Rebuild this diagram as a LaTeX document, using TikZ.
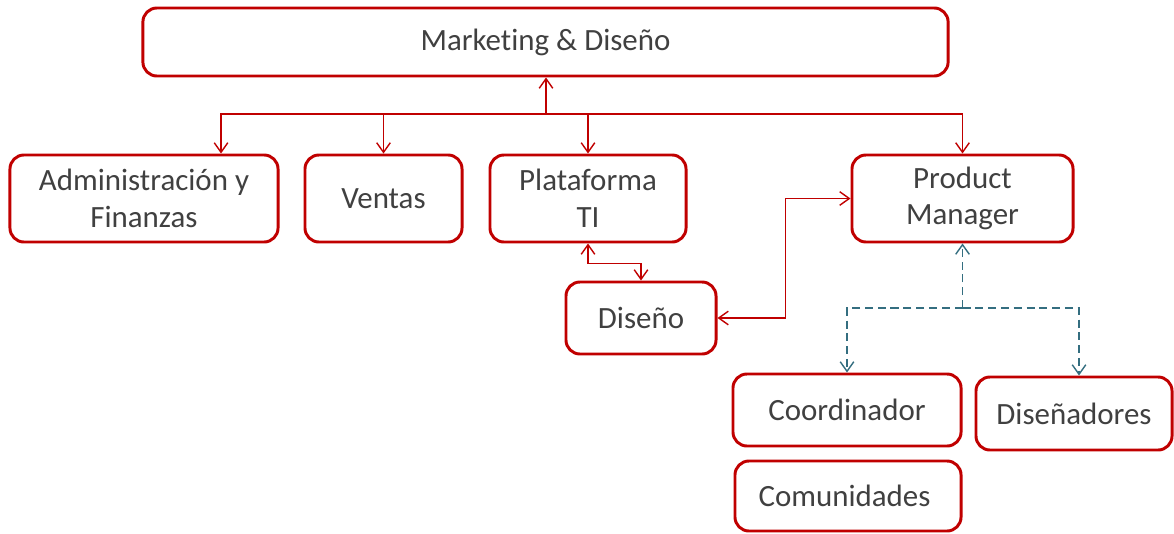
\documentclass[tikz,border=0pt]{standalone}
\usepackage{fontspec}
\setmainfont{Carlito}[Ligatures=NoCommon]
\usetikzlibrary{arrows.meta}
\definecolor{rojo}{RGB}{192,0,0}
\definecolor{azul}{RGB}{52,110,128}
\definecolor{texto}{RGB}{64,64,64}
\begin{document}
\begin{tikzpicture}[x=0.025cm,y=-0.025cm,
caja/.style={draw=rojo,line width=2.1pt,rounded corners=0.35cm,align=center,text=texto,inner sep=0pt,font=\fontsize{22}{26}\selectfont},
flecha/.style={draw=rojo,line width=1pt,-{Straight Barb[length=2.4mm,width=3.4mm]}},
doble/.style={flecha,{Straight Barb[length=2.4mm,width=3.4mm]}-{Straight Barb[length=2.4mm,width=3.4mm]}},
punteada/.style={draw=azul,line width=1pt,dash pattern=on 0.2cm off 0.12cm,-{Straight Barb[length=2.4mm,width=3.4mm]}}]
\useasboundingbox (0,0) rectangle (1174,533);
% cajas: nombre/x/y/ancho/alto/texto
\foreach \n/\x/\y/\w/\h/\t in {
mkt/545.5/42/20.125/1.7/{Marketing \& Diseño},
adm/144/198.5/6.7/2.175/{Administración y\\Finanzas},
ven/383.5/198.5/3.925/2.175/{Ventas},
pla/588/198.5/4.9/2.175/{Plataforma\\TI},
pm/962.5/198.5/5.525/2.175/{Product\\Manager},
dis/641/318/3.75/1.8/{Diseño},
coo/847/410/5.7/1.8/{Coordinador},
des/1074/413.5/4.9/1.825/{Diseñadores},
com/848/496/5.65/1.75/{Comunidades}
}{
\node[caja,minimum width=\w cm,minimum height=\h cm] (\n) at (\x,\y) {\t};
}
% conectores
\coordinate (r) at (546,114);
\draw[flecha] (r) -- (r |- mkt.south);
\draw[flecha] (r) -| ([xshift=1.925cm]adm.north);
\draw[flecha] (r) -| (ven.north);
\draw[flecha] (r) -| (pla.north);
\draw[flecha] (r) -| (pm.north);
\draw[doble] (pla.south) -- ++(0,20) -| (dis.north);
\draw[doble] (dis.east) -- ++(68,0) |- (pm.west);
\coordinate (d) at (962.5,308);
\draw[punteada] (d) -- (pm.south);
\draw[punteada] (d) -| (coo.north);
\draw[punteada] (d) -| ([xshift=0.125cm]des.north);
\end{tikzpicture}
\end{document}
